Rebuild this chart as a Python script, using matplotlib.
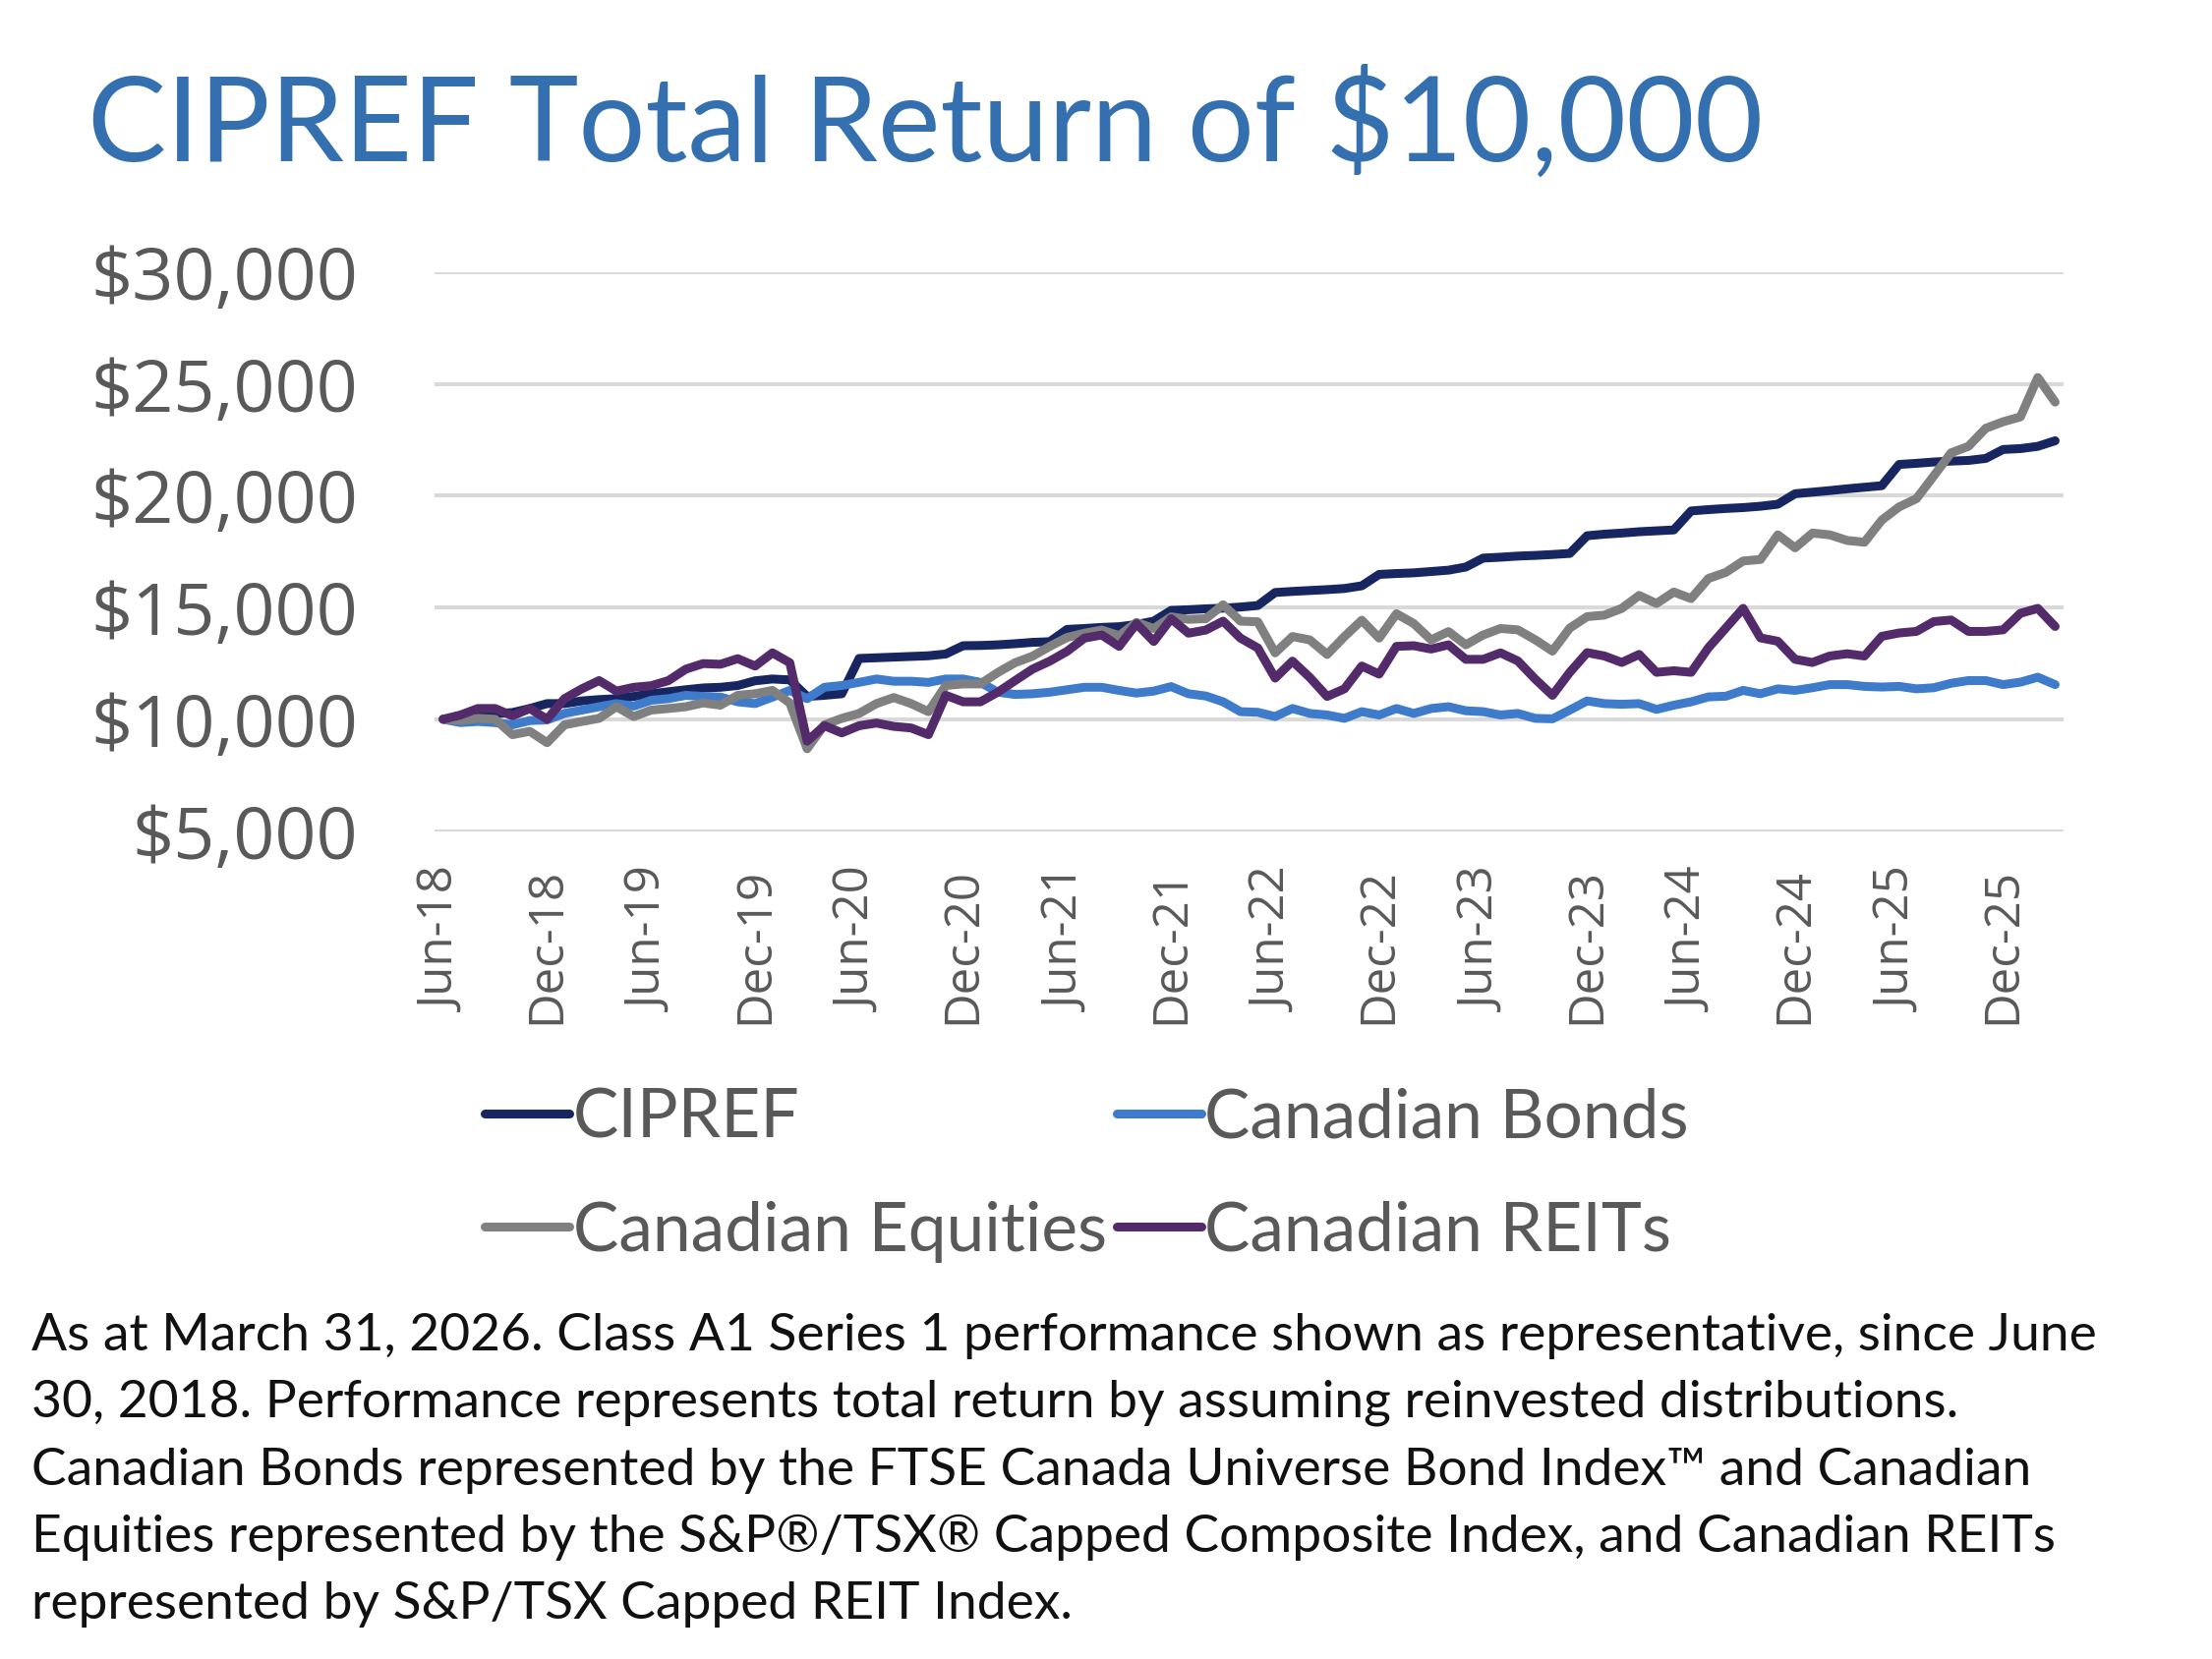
import matplotlib
matplotlib.use("Agg")
import matplotlib.pyplot as plt
from matplotlib.lines import Line2D

# Monthly values, Jun-18 .. Mar-26 (94 months)
cipref = [
    10000, 10050, 10150, 10250, 10300, 10480,
    10700, 10700, 10820, 10880, 10920, 11020,
    11140, 11230, 11320, 11400, 11430, 11510,
    11720, 11800, 11760, 11020, 11070, 11140,
    12720, 12750, 12780, 12810, 12840, 12920,
    13290, 13300, 13330, 13380, 13440, 13470,
    14020, 14060, 14110, 14140, 14240, 14390,
    14870, 14900, 14940, 14970, 15020, 15090,
    15670, 15720, 15760, 15800, 15850, 15970,
    16480, 16520, 16550, 16610, 16670, 16810,
    17210, 17250, 17300, 17330, 17370, 17420,
    18210, 18280, 18330, 18390, 18430, 18470,
    19320, 19380, 19430, 19470, 19530, 19620,
    20090, 20160, 20230, 20310, 20380, 20450,
    21400, 21450, 21510, 21550, 21580, 21670,
    22070, 22110, 22210, 22460,
]
bonds = [
    10000, 9850, 9900, 9850, 9750, 9940,
    9970, 10260, 10410, 10560, 10700, 10590,
    10850, 10920, 11070, 11020, 10990, 10780,
    10700, 10990, 11290, 10920, 11430, 11510,
    11650, 11800, 11700, 11700, 11650, 11800,
    11800, 11650, 11210, 11110, 11140, 11210,
    11320, 11430, 11430, 11290, 11170, 11260,
    11460, 11140, 11040, 10780, 10340, 10310,
    10120, 10480, 10260, 10190, 10040, 10340,
    10190, 10480, 10260, 10480, 10560, 10380,
    10340, 10190, 10260, 10040, 10020, 10410,
    10820, 10700, 10670, 10700, 10440, 10630,
    10780, 11000, 11030, 11290, 11140, 11360,
    11290, 11410, 11550, 11550, 11470, 11440,
    11470, 11360, 11410, 11610, 11730, 11730,
    11550, 11660, 11880, 11550,
]
equities = [
    10000, 9940, 10040, 10000, 9310, 9460,
    8950, 9750, 9900, 10040, 10560, 10120,
    10410, 10480, 10560, 10730, 10630, 11070,
    11140, 11290, 10730, 8680, 9750, 10040,
    10260, 10700, 10970, 10700, 10340, 11510,
    11580, 11580, 12090, 12530, 12820, 13260,
    13660, 13850, 13990, 13740, 14330, 14060,
    14580, 14470, 14500, 15120, 14390, 14360,
    12970, 13700, 13550, 12900, 13700, 14430,
    13630, 14720, 14280, 13550, 13920, 13330,
    13770, 14060, 14000, 13560, 13050, 14080,
    14590, 14660, 14960, 15540, 15180, 15690,
    15400, 16300, 16570, 17080, 17150, 18250,
    17670, 18330, 18250, 18000, 17920, 18910,
    19500, 19870, 20890, 21920, 22210, 23020,
    23310, 23530, 25290, 24190,
]
reits = [
    10000, 10190, 10480, 10480, 10150, 10480,
    10000, 10920, 11360, 11730, 11260, 11430,
    11500, 11730, 12240, 12490, 12460, 12710,
    12380, 12970, 12530, 9020, 9710, 9390,
    9710, 9830, 9680, 9610, 9310, 11070,
    10780, 10780, 11210, 11730, 12240, 12600,
    13040, 13630, 13770, 13260, 14280, 13480,
    14500, 13850, 13990, 14390, 13630, 13190,
    11840, 12600, 11870, 11020, 11360, 12380,
    12020, 13260, 13290, 13140, 13330, 12680,
    12680, 12970, 12610, 11800, 11070, 12100,
    12980, 12830, 12540, 12900, 12100, 12170,
    12100, 13200, 14080, 14960, 13640, 13490,
    12680, 12540, 12830, 12930, 12830, 13710,
    13860, 13930, 14370, 14440, 13930, 13930,
    14000, 14740, 14960, 14150,
]

series_names = ["CIPREF", "Canadian Bonds", "Canadian Equities", "Canadian REITs"]
series_colors = ["#172560", "#3F7BCB", "#808080", "#532B6A"]

x_labels = ["Jun-18", "Dec-18", "Jun-19", "Dec-19", "Jun-20", "Dec-20", "Jun-21", "Dec-21",
            "Jun-22", "Dec-22", "Jun-23", "Dec-23", "Jun-24", "Dec-24", "Jun-25", "Dec-25"]
y_ticks = [5000, 10000, 15000, 20000, 25000, 30000]
y_labels = ["$5,000", "$10,000", "$15,000", "$20,000", "$25,000", "$30,000"]

footnote = ("As at March 31, 2026. Class A1 Series 1 performance shown as representative, since June\n"
            "30, 2018. Performance represents total return by assuming reinvested distributions.\n"
            "Canadian Bonds represented by the FTSE Canada Universe Bond Index\u2122 and Canadian\n"
            "Equities represented by the S&P\u00ae/TSX\u00ae Capped Composite Index, and Canadian REITs\n"
            "represented by S&P/TSX Capped REIT Index.")

fig = plt.figure(figsize=(22.5, 16.88), dpi=100)
ax = fig.add_axes([0.1964, 0.4991, 0.7366, 0.3368])

months = list(range(len(cipref)))
lw = 6.5
for vals, name, col in zip([cipref, bonds, equities, reits], series_names, series_colors):
    ax.plot(months, vals, color=col, lw=lw, label=name,
            solid_capstyle="round", solid_joinstyle="round")

ax.set_xlim(-0.5, len(cipref) - 0.5)
ax.set_ylim(5000, 30000)
ax.set_yticks(y_ticks)
ax.set_yticklabels(y_labels)
ax.set_xticks(months[::6])
ax.set_xticklabels(x_labels, rotation=90)
ax.grid(axis="y", color="#D9D9D9", lw=2.9)
ax.set_axisbelow(True)
for s in ax.spines.values():
    s.set_visible(False)
ax.tick_params(axis="y", length=0, pad=56, labelsize=53, labelcolor="#595959")
ax.tick_params(axis="x", length=0, pad=27, labelsize=35.5, labelcolor="#595959")
for t in ax.get_yticklabels():
    t.set_fontfamily("Open Sans")
for t in ax.get_xticklabels():
    t.set_fontfamily("Open Sans")

# legend: row 1 CIPREF / Bonds, row 2 Equities / REITs
handles = [Line2D([], [], color=c, lw=lw, solid_capstyle="round") for c in series_colors]
order = [0, 2, 1, 3]
leg = fig.legend([handles[i] for i in order], [series_names[i] for i in order],
                 ncol=2, loc="upper left", bbox_to_anchor=(0.1915, 0.3818),
                 frameon=False, handlelength=1.24, handletextpad=0.046,
                 columnspacing=0.14, labelspacing=0.76,
                 prop={"family": "Lato", "size": 50})
for t in leg.get_texts():
    t.set_color("#595959")

fig.text(0.0395, 0.925, "CIPREF Total Return of $10,000", fontsize=86.3, color="#346FAF",
         family="Lato", va="center", ha="left")

fig.text(0.0142, 0.2088, footnote, fontsize=38.4, color="#111111", family="Lato",
         va="top", ha="left", linespacing=1.56)

fig.savefig("out.png", dpi=100)
